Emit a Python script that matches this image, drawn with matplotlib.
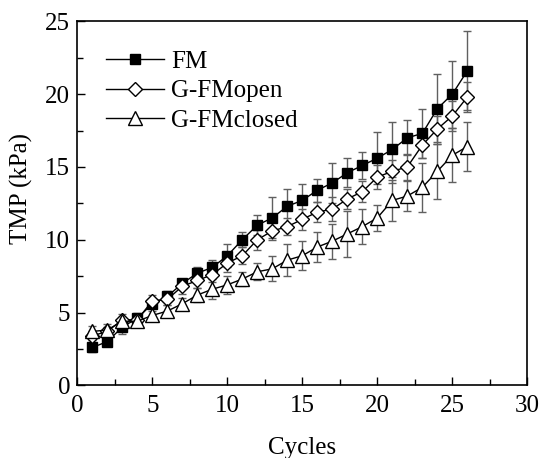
import matplotlib
matplotlib.use('agg')
import matplotlib.pyplot as plt
import numpy as np
from matplotlib.ticker import MultipleLocator

cycles = np.arange(1, 27)

fm = [2.6, 3.0, 4.0, 4.6, 5.6, 6.1, 7.0, 7.7, 8.1, 8.9, 10.0, 11.0, 11.5,
      12.3, 12.7, 13.4, 13.9, 14.6, 15.1, 15.6, 16.2, 17.0, 17.3, 19.0, 20.0, 21.6]
fm_err = [0.3, 0.3, 0.5, 0.4, 0.3, 0.4, 0.3, 0.4, 0.5, 0.8, 0.5, 0.7, 1.4,
          1.2, 1.1, 0.8, 1.4, 1.0, 0.9, 1.8, 1.9, 1.2, 1.7, 2.4, 2.3, 2.7]

fm_open = [3.4, 3.7, 4.5, 4.5, 5.8, 5.9, 6.8, 7.2, 7.6, 8.4, 8.9, 10.0, 10.6,
           10.9, 11.4, 11.9, 12.1, 12.8, 13.3, 14.3, 14.7, 15.0, 16.5, 17.6, 18.5, 19.8]
fm_open_err = [0.3, 0.3, 0.4, 0.4, 0.4, 0.4, 0.5, 0.5, 0.5, 0.6, 0.6, 0.7, 0.6,
               0.6, 0.7, 0.7, 0.8, 0.7, 0.7, 0.8, 0.8, 0.9, 0.9, 0.9, 1.0, 1.0]

fm_closed = [3.7, 3.8, 4.4, 4.4, 4.8, 5.1, 5.6, 6.2, 6.6, 6.9, 7.3, 7.8, 8.0,
             8.6, 8.9, 9.5, 9.9, 10.4, 10.9, 11.5, 12.7, 13.0, 13.6, 14.7, 15.8, 16.4]
fm_closed_err = [0.4, 0.4, 0.3, 0.4, 0.3, 0.4, 0.4, 0.5, 0.7, 0.6, 0.5, 0.6, 0.85,
                 1.1, 1.0, 1.0, 1.2, 1.6, 1.2, 0.9, 1.4, 1.0, 1.7, 1.9, 1.85, 1.7]

plt.rcParams['font.family'] = ['Liberation Serif', 'DejaVu Serif']

fig = plt.figure(figsize=(5.42, 4.58), dpi=100)
ax = fig.add_axes([0.1426, 0.1587, 0.8304, 0.7948])

err_kw = dict(ecolor='#606060', elinewidth=1, capsize=3, capthick=1,
              color='black', linewidth=1, markeredgecolor='black', markeredgewidth=1)
ax.errorbar(cycles, fm, yerr=fm_err, marker='s', markersize=7,
            markerfacecolor='black', label='FM', **err_kw)
ax.errorbar(cycles, fm_open, yerr=fm_open_err, marker='D', markersize=7.5,
            markerfacecolor='white', label='G-FMopen', **err_kw)
ax.errorbar(cycles, fm_closed, yerr=fm_closed_err, marker='^', markersize=9.5,
            markerfacecolor='white', label='G-FMclosed', **err_kw)

ax.set_xlim(0, 30)
ax.set_ylim(0, 25)
ax.xaxis.set_major_locator(MultipleLocator(5))
ax.xaxis.set_minor_locator(MultipleLocator(2.5))
ax.yaxis.set_major_locator(MultipleLocator(5))
ax.yaxis.set_minor_locator(MultipleLocator(2.5))
ax.tick_params(which='both', direction='in', labelsize=18, width=1)
ax.tick_params(which='major', length=6)
ax.tick_params(which='minor', length=4)
ax.tick_params(axis='x', pad=7)
ax.tick_params(axis='y', pad=5)
for s in ax.spines.values():
    s.set_linewidth(1.2)

ax.set_xlabel('Cycles', fontsize=18, va='top')
ax.xaxis.set_label_coords(0.5, -0.142)
ax.set_ylabel('TMP (kPa)', fontsize=18)
ax.yaxis.set_label_coords(-0.098, 0.542)

handles, labels = ax.get_legend_handles_labels()
handles = [h[0] for h in handles]
ax.legend(handles, labels, loc='upper left', frameon=False, fontsize=18,
          handlelength=2.3, handletextpad=0.3, labelspacing=0.28,
          borderpad=0, borderaxespad=0, bbox_to_anchor=(0.064, 0.92))

fig.savefig('out.png', dpi=100)
